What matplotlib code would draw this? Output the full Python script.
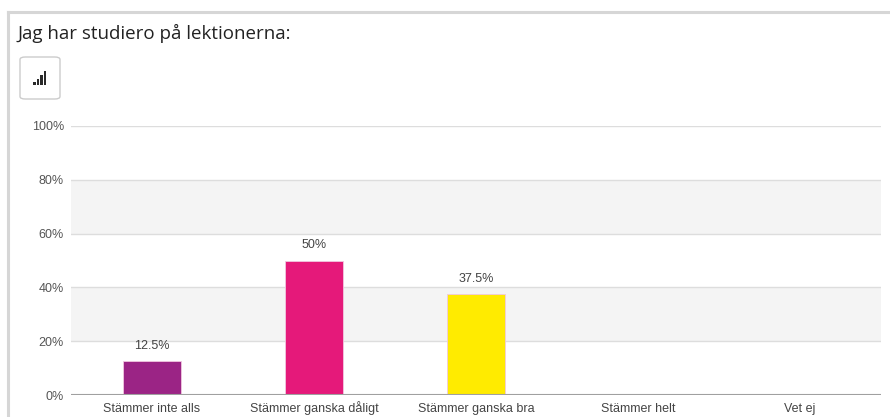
import matplotlib
matplotlib.use("Agg")
import matplotlib.pyplot as plt
from matplotlib.patches import FancyBboxPatch, Rectangle
from matplotlib.lines import Line2D

title = "Jag har studiero på lektionerna:"
categories = ["Stämmer inte alls", "Stämmer ganska dåligt", "Stämmer ganska bra",
              "Stämmer helt", "Vet ej"]
values = [12.5, 50, 37.5, 0, 0]
labels = ["12.5%", "50%", "37.5%", "", ""]
colors = ["#9b2485", "#e5197a", "#ffeb00", "#cccccc", "#cccccc"]
yticks = [0, 20, 40, 60, 80, 100]

W, H = 890, 417
fig = plt.figure(figsize=(W / 100, H / 100), dpi=100)
fig.patch.set_facecolor("white")

# container border
fig.add_artist(Line2D([8 / W, 8 / W], [0, 1 - 12 / H], color="#d6d6d6", lw=2.2))
fig.add_artist(Line2D([8 / W, 1], [1 - 12 / H, 1 - 12 / H], color="#d6d6d6", lw=2.2))

fig.text(18 / W, 1 - 33 / H, title, fontsize=13.5, family="Open Sans",
         color="#222222", va="center", ha="left")

# chart type button
fig.add_artist(FancyBboxPatch((20 / W, 1 - 99 / H), 40 / W, 42 / H,
                              boxstyle="round,pad=0,rounding_size=0.006",
                              transform=fig.transFigure, facecolor="white",
                              edgecolor="#cccccc", lw=1))
for i, h in enumerate([3, 6, 10, 14]):
    fig.add_artist(Rectangle(((33 + i * 3.6) / W, 1 - 85 / H), 2.6 / W, h / H,
                             transform=fig.transFigure, facecolor="#2a2a2a",
                             edgecolor="none"))

ax = fig.add_axes([71 / W, 1 - 395 / H, 810 / W, (395 - 126) / H])
ax.set_xlim(-0.5, len(categories) - 0.5)
ax.set_ylim(0, 100)

# alternating bands
for lo, hi in [(20, 40), (60, 80)]:
    ax.axhspan(lo, hi, color="#f4f4f4", zorder=0, lw=0)
for t in yticks[1:]:
    ax.axhline(t, color="#dddddd", lw=1, zorder=1)
ax.axhline(0, color="#a0a0a0", lw=1.5, zorder=3)

x = range(len(categories))
bars = ax.bar(x, values, width=0.36, color=colors, edgecolor="#f0c8e0",
              lw=0.6, zorder=2)
for b, lab in zip(bars, labels):
    if lab:
        ax.text(b.get_x() + b.get_width() / 2, b.get_height() + 3.5, lab,
                ha="center", va="bottom", fontsize=9, family="Liberation Sans",
                color="#444444")

ax.set_xticks(list(x))
ax.set_xticklabels(categories, fontsize=9, family="Liberation Sans",
                   color="#444444", va="baseline")
ax.set_yticks(yticks)
ax.set_yticklabels([f"{t}%" for t in yticks], fontsize=9,
                   family="Liberation Sans", color="#555555")
ax.tick_params(axis="x", length=0, pad=12)
ax.tick_params(axis="y", length=0, pad=5)
for s in ax.spines.values():
    s.set_visible(False)

fig.savefig("out.png", dpi=100)
